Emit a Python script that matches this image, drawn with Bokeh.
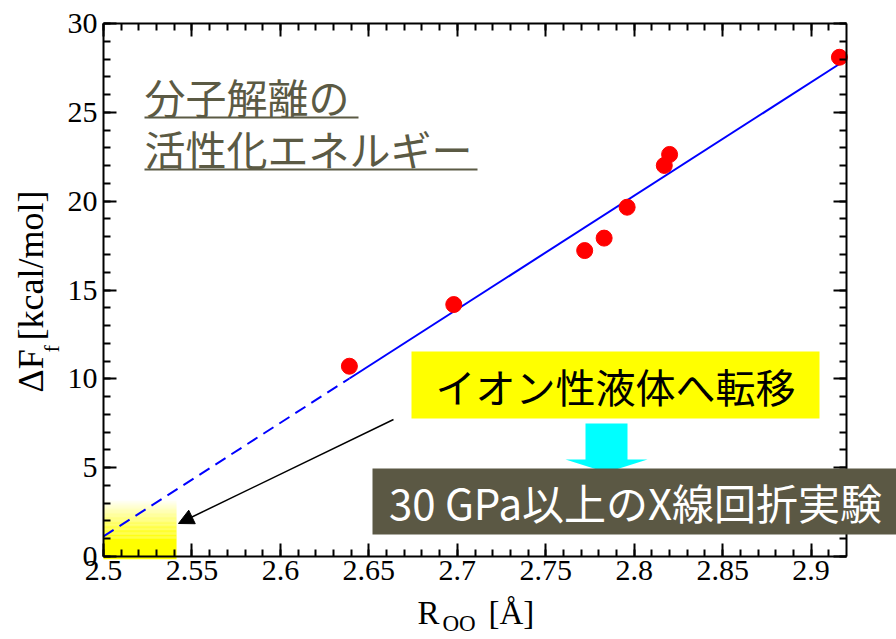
import numpy as np
from math import pi
from bokeh.plotting import figure
from bokeh.models import (Range1d, SingleIntervalTicker, LinearAxis, CustomJSTickFormatter,
                          Label, BoxAnnotation, PolyAnnotation, Arrow, NormalHead)
from bokeh.embed import file_html
from bokeh.resources import INLINE

# ---------------- data ----------------
r_oo = [2.639, 2.698, 2.772, 2.783, 2.796, 2.817, 2.820, 2.916]
delta_f = [10.71, 14.18, 17.22, 17.92, 19.66, 22.01, 22.63, 28.10]
fit_solid_x = [2.639, 2.916]
fit_solid_y = [10.02, 27.72]
fit_dash_x = [2.5, 2.639]
fit_dash_y = [1.13, 10.02]
x_lim = (2.5, 2.92)
y_lim = (0, 30)
title_lines = ["分子解離の", "活性化エネルギー"]
box1_text = "イオン性液体へ転移"
box2_text = "30 GPa以上のX線回折実験"
hl_x = (2.5, 2.5413)
hl_solid_top = 1.0
hl_fade_top = 3.2

# ---------------- layout (canvas pixel -> data) ----------------
W, H = 896, 639
AX_L, AX_T, AX_W, AX_H = 103, 23, 743, 533   # the axes box, in canvas pixels


def px2x(px):
    return x_lim[0] + (px - AX_L) * (x_lim[1] - x_lim[0]) / AX_W


def px2y(py):
    return y_lim[1] - (py - AX_T) * (y_lim[1] - y_lim[0]) / AX_H


p = figure(width=W, height=H,
           x_range=Range1d(px2x(0), px2x(W)), y_range=Range1d(px2y(H), px2y(0)),
           output_backend="svg", toolbar_location=None,
           min_border=0, min_border_left=0, min_border_right=0, min_border_top=0, min_border_bottom=0,
           x_axis_type=None, y_axis_type=None)
p.grid.visible = False
p.outline_line_color = None
p.background_fill_color = "white"
p.border_fill_color = "white"

blank = CustomJSTickFormatter(code="return '';")


def make_axis(kind, show, loc):
    if kind == "x":
        fmt = CustomJSTickFormatter(code="return String(parseFloat(tick.toFixed(2)));") if show else blank
        ax = LinearAxis(ticker=SingleIntervalTicker(interval=0.05, num_minor_ticks=5), formatter=fmt,
                        bounds=x_lim, fixed_location=loc)
        ax.major_label_standoff = 4
    else:
        ax = LinearAxis(ticker=SingleIntervalTicker(interval=5, num_minor_ticks=5),
                        bounds=y_lim, fixed_location=loc)
        if not show:
            ax.formatter = blank
        ax.major_label_standoff = 6
    ax.axis_line_width = 2
    ax.axis_line_color = "black"
    ax.major_tick_in = 13
    ax.major_tick_out = 0
    ax.minor_tick_in = 7
    ax.minor_tick_out = 0
    ax.major_tick_line_width = 2
    ax.minor_tick_line_width = 2
    ax.major_label_text_font = "Liberation Serif"
    ax.major_label_text_font_size = "30px"
    ax.major_label_text_color = "black"
    return ax


p.add_layout(make_axis("x", True, y_lim[0]), "below")
p.add_layout(make_axis("x", False, y_lim[1]), "above")
p.add_layout(make_axis("y", True, x_lim[0]), "left")
p.add_layout(make_axis("y", False, x_lim[1]), "right")

# yellow gradient highlight near origin
p.add_layout(BoxAnnotation(left=hl_x[0], right=hl_x[1], bottom=-0.15, top=hl_solid_top,
                           fill_color="#ffff00", fill_alpha=1.0, line_color=None, level="underlay"))
n_band = 30
edges = np.linspace(hl_solid_top, hl_fade_top, n_band + 1)
for i in range(n_band):
    a = 1.0 - (i + 0.5) / n_band
    p.add_layout(BoxAnnotation(left=hl_x[0], right=hl_x[1], bottom=edges[i], top=edges[i + 1],
                               fill_color="#ffff00", fill_alpha=a, line_color=None, level="underlay"))

# fit line and data
p.line(fit_dash_x, fit_dash_y, line_color="blue", line_width=2, line_dash="12 7")
p.line(fit_solid_x, fit_solid_y, line_color="blue", line_width=2)
p.scatter(r_oo, delta_f, size=16, fill_color="red", line_color="red")

# title with underlines
title_color = "#5b5a44"
for txt, cy, uy, ux in zip(title_lines, [95, 147], [117, 169], [358, 477]):
    p.add_layout(Label(x=px2x(144), y=px2y(cy), text=txt, text_align="left", text_baseline="middle",
                       text_font="Noto Sans CJK JP", text_font_size="41px", text_color=title_color))
    p.add_layout(BoxAnnotation(left=px2x(144), right=px2x(ux), top=px2y(uy - 1), bottom=px2y(uy + 1),
                               fill_color=title_color, fill_alpha=1.0, line_color=None))

# black arrow
p.add_layout(Arrow(end=NormalHead(size=15, fill_color="black", line_color="black"),
                   x_start=px2x(393), y_start=px2y(419), x_end=px2x(178), y_end=px2y(523),
                   line_color="black", line_width=1.5))

# yellow box
p.add_layout(BoxAnnotation(left=px2x(411), right=px2x(819), top=px2y(351), bottom=px2y(418),
                           fill_color="#ffff00", fill_alpha=1.0, line_color=None))
p.add_layout(Label(x=px2x(615), y=px2y(385), text=box1_text, text_align="center", text_baseline="middle",
                   text_font="Noto Sans CJK JP", text_font_size="40px", text_color="black"))

# cyan block arrow
cx = [585, 627, 627, 647, 606, 565, 585]
cy_ = [423, 423, 459, 459, 472, 459, 459]
p.add_layout(PolyAnnotation(xs=[px2x(v) for v in cx], ys=[px2y(v) for v in cy_],
                            fill_color="#00ffff", fill_alpha=1.0, line_color=None))

# dark box
p.add_layout(BoxAnnotation(left=px2x(372), right=px2x(W + 5), top=px2y(468), bottom=px2y(534),
                           fill_color="#5b5844", fill_alpha=1.0, line_color=None))
p.add_layout(Label(x=px2x(635), y=px2y(501), text=box2_text, text_align="center", text_baseline="middle",
                   text_font="Noto Sans CJK JP", text_font_size="42px", text_color="white"))

# axis labels (manual, with subscripts); anchor is shifted by ~0.39 em from the wanted baseline
serif = "Liberation Serif"


def base_off(size):
    return 0.39 * size


xl, xs = 33, 23
p.add_layout(Label(x=px2x(417), y=px2y(625 - base_off(xl)), text="R", text_align="left",
                   text_baseline="alphabetic", text_font=serif, text_font_size=f"{xl}px", text_color="black"))
p.add_layout(Label(x=px2x(442), y=px2y(632 - base_off(xs)), text="OO", text_align="left",
                   text_baseline="alphabetic", text_font=serif, text_font_size=f"{xs}px", text_color="black"))
p.add_layout(Label(x=px2x(488), y=px2y(625 - base_off(xl)), text="[Å]", text_align="left",
                   text_baseline="alphabetic", text_font=serif, text_font_size=f"{xl}px", text_color="black"))

yl, ys = 36, 22
p.add_layout(Label(x=px2x(45 - base_off(yl)), y=px2y(392), text="ΔF", angle=pi / 2, text_align="left",
                   text_baseline="alphabetic", text_font=serif, text_font_size=f"{yl}px", text_color="black"))
p.add_layout(Label(x=px2x(60 - base_off(ys)), y=px2y(352), text="f", angle=pi / 2, text_align="left",
                   text_baseline="alphabetic", text_font=serif, text_font_size=f"{ys}px", text_color="black"))
p.add_layout(Label(x=px2x(45 - base_off(yl)), y=px2y(340), text="[kcal/mol]", angle=pi / 2, text_align="left",
                   text_baseline="alphabetic", text_font=serif, text_font_size=f"{yl}px", text_color="black"))

open("out.html", "w").write(file_html(p, INLINE))
